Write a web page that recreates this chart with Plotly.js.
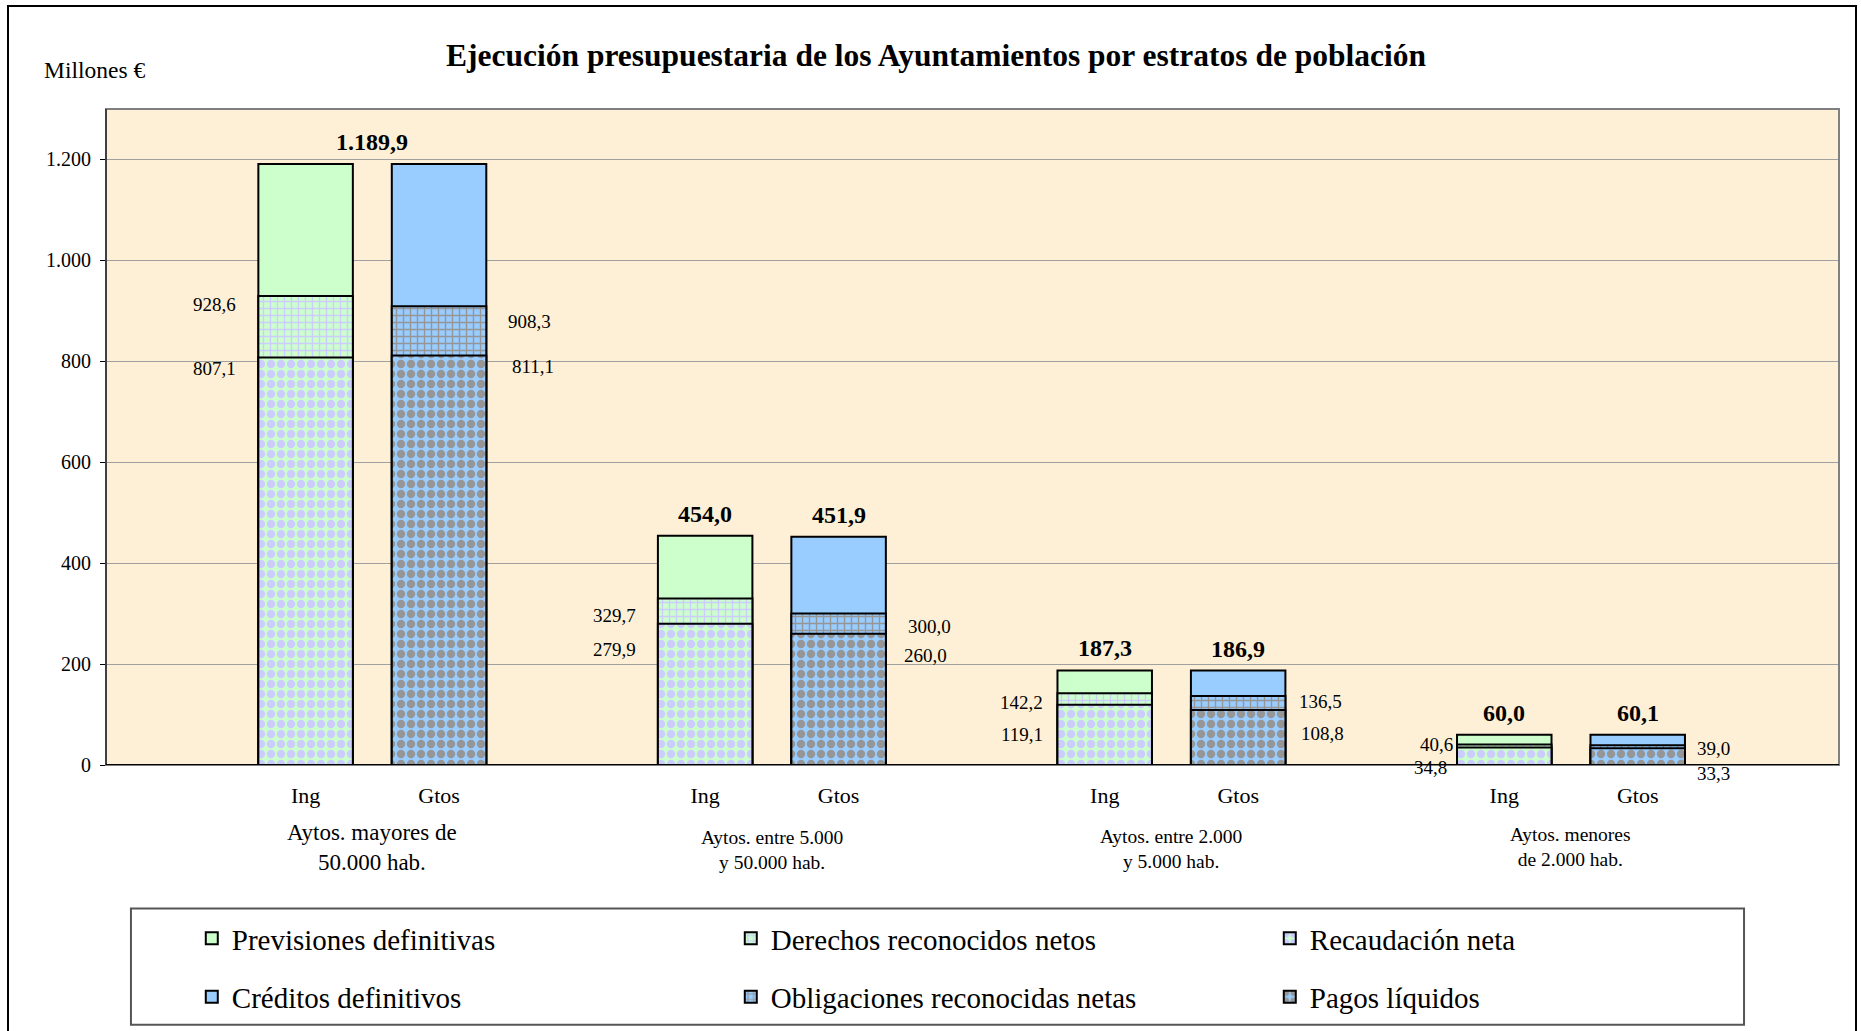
<!DOCTYPE html>
<html>
<head>
<meta charset="utf-8">
<script src="https://cdn.plot.ly/plotly-3.0.1.min.js"></script>
<style>
  html, body { margin: 0; padding: 0; background: #ffffff; overflow: hidden; }
  #frame { position: absolute; left: 7px; top: 5px; width: 1850px; height: 1100px; border: 2px solid #000; box-sizing: border-box; }
  #chart { position: absolute; left: 0; top: 0; width: 1861px; height: 1031px; }
</style>
</head>
<body>
<div id="frame"></div>
<div id="chart"></div>
<script>
// ---- Data ----
var groupLabels = [
  'Aytos. mayores de<br>50.000 hab.',
  'Aytos. entre 5.000<br>y 50.000 hab.',
  'Aytos. entre 2.000<br>y 5.000 hab.',
  'Aytos. menores<br>de 2.000 hab.'
];
var barLabels = ['Ing', 'Gtos'];
var previsiones   = [1189.9, 454.0, 187.3, 60.0];
var derechos      = [928.6, 329.7, 142.2, 40.6];
var recaudacion   = [807.1, 279.9, 119.1, 34.8];
var creditos      = [1189.9, 451.9, 186.9, 60.1];
var obligaciones  = [908.3, 300.0, 136.5, 39.0];
var pagos         = [811.1, 260.0, 108.8, 33.3];
var yTicks = [0, 200, 400, 600, 800, 1000, 1200];

// ---- Style ----
var FONT = 'Liberation Serif, Times New Roman, serif';
var GREEN = '#CCFFCC', LAV = '#CCCCFF', BLUE = '#99CCFF', GRAY = '#969696';
var BAR_W = 0.2365, ING_OFF = -0.285, GTOS_OFF = 0.049;
// label nudges (px): [xshift, yshift] for inner segment labels
var ingShift  = [[[-20,-8],[-20,-11]], [[-20,-17],[-20,-26]], [[-12,-9],[-12,-30]], [[-2,0],[-8,-20]]];
var gtosShift = [[[20,-15],[24,-11]], [[20,-13],[16,-22]], [[12,-5],[14,-23]], [[10,-3],[10,-25]]];
var groupLabelY = [-0.125, -0.13, -0.128, -0.125];

var idx = groupLabels.map(function(_, i){ return i; });

function fmt(v){
  var s = v.toFixed(1).split('.');
  var intPart = s[0].replace(/\B(?=(\d{3})+(?!\d))/g, '.');
  return intPart + ',' + s[1];
}

function barTrace(name, vals, off, fill, pattern, legend){
  var marker = { color: fill, line: { color: '#000000', width: 2 } };
  if (pattern) marker.pattern = pattern;
  return {
    type: 'bar', name: name, x: idx, y: vals, offset: off, width: BAR_W,
    marker: marker, legend: legend, hoverinfo: 'y'
  };
}

var traces = [
  barTrace('Previsiones definitivas', previsiones, ING_OFF, GREEN, null, 'legend'),
  barTrace('Derechos reconocidos netos', derechos, ING_OFF, GREEN,
           { shape: '+', fgcolor: LAV, bgcolor: GREEN, size: 7, solidity: 0.35, fillmode: 'replace' }, 'legend'),
  barTrace('Recaudación neta', recaudacion, ING_OFF, GREEN,
           { shape: '.', fgcolor: LAV, bgcolor: GREEN, size: 10, solidity: 0.55, fillmode: 'replace' }, 'legend'),
  barTrace('Créditos definitivos', creditos, GTOS_OFF, BLUE, null, 'legend2'),
  barTrace('Obligaciones reconocidas netas', obligaciones, GTOS_OFF, BLUE,
           { shape: '+', fgcolor: GRAY, bgcolor: BLUE, size: 7, solidity: 0.35, fillmode: 'replace' }, 'legend2'),
  barTrace('Pagos líquidos', pagos, GTOS_OFF, BLUE,
           { shape: '.', fgcolor: GRAY, bgcolor: BLUE, size: 10, solidity: 0.55, fillmode: 'replace' }, 'legend2')
];

var annotations = [];
idx.forEach(function(i){
  // totals
  if (previsiones[i] === creditos[i]) {
    annotations.push({ x: i, y: previsiones[i], xref: 'x', yref: 'y', text: '<b>' + fmt(previsiones[i]) + '</b>',
      showarrow: false, yanchor: 'bottom', yshift: 7, font: { family: FONT, size: 24, color: '#000' } });
  } else {
    annotations.push({ x: i + ING_OFF + BAR_W / 2, y: previsiones[i], text: '<b>' + fmt(previsiones[i]) + '</b>',
      showarrow: false, yanchor: 'bottom', yshift: 7, font: { family: FONT, size: 24, color: '#000' } });
    annotations.push({ x: i + GTOS_OFF + BAR_W / 2, y: creditos[i], text: '<b>' + fmt(creditos[i]) + '</b>',
      showarrow: false, yanchor: 'bottom', yshift: 7, font: { family: FONT, size: 24, color: '#000' } });
  }
  // inner labels Ing (left)
  [derechos[i], recaudacion[i]].forEach(function(v, k){
    annotations.push({ x: i + ING_OFF, y: v, text: fmt(v), showarrow: false, xanchor: 'right', yanchor: 'middle',
      xshift: ingShift[i][k][0], yshift: ingShift[i][k][1], font: { family: FONT, size: 19, color: '#000' } });
  });
  // inner labels Gtos (right)
  [obligaciones[i], pagos[i]].forEach(function(v, k){
    annotations.push({ x: i + GTOS_OFF + BAR_W, y: v, text: fmt(v), showarrow: false, xanchor: 'left', yanchor: 'middle',
      xshift: gtosShift[i][k][0], yshift: gtosShift[i][k][1], font: { family: FONT, size: 19, color: '#000' } });
  });
  // group labels
  annotations.push({ x: i, y: groupLabelY[i], xref: 'x', yref: 'paper', text: groupLabels[i], showarrow: false,
    yanchor: 'middle', align: 'center',
    font: { family: FONT, size: i === 0 ? 23 : 19.5, color: '#000' } });
});
annotations.push({ x: -0.037, y: 1.059, xref: 'paper', yref: 'paper', text: 'Millones €', showarrow: false,
  xanchor: 'left', yanchor: 'middle', font: { family: FONT, size: 23.5, color: '#000' } });

var tickvals = [], ticktext = [];
idx.forEach(function(i){
  tickvals.push(i + ING_OFF + BAR_W / 2); ticktext.push(barLabels[0]);
  tickvals.push(i + GTOS_OFF + BAR_W / 2); ticktext.push(barLabels[1]);
});

var legendCommon = {
  orientation: 'h', xref: 'paper', yref: 'paper', xanchor: 'left', yanchor: 'top',
  x: 0.0495, bgcolor: 'rgba(0,0,0,0)', borderwidth: 0,
  entrywidth: 494, entrywidthmode: 'pixels',
  font: { family: FONT, size: 29, color: '#000' }
};
var legend1 = Object.assign({}, legendCommon, { y: -0.2255 });
var legend2 = Object.assign({}, legendCommon, { y: -0.3145 });

var layout = {
  width: 1861, height: 1031,
  margin: { l: 106, r: 22, t: 109, b: 266, autoexpand: false },
  paper_bgcolor: 'rgba(0,0,0,0)',
  plot_bgcolor: '#FDF0D6',
  barmode: 'overlay',
  separators: ',.',
  showlegend: true,
  title: { text: '<b>Ejecución presupuestaria de los Ayuntamientos por estratos de población</b>',
    xref: 'container', yref: 'container', x: 0.503, y: 0.947, xanchor: 'center', yanchor: 'middle',
    font: { family: FONT, size: 31.5, color: '#000' } },
  xaxis: {
    type: 'linear', range: [-0.6663, 3.671], tickmode: 'array', tickvals: tickvals, ticktext: ticktext,
    showgrid: false, zeroline: false, showline: false,
    ticks: 'outside', ticklen: 10.5, tickcolor: 'rgba(0,0,0,0)',
    tickfont: { family: FONT, size: 22, color: '#000' }, fixedrange: true
  },
  yaxis: {
    range: [0, 1299], tickmode: 'array', tickvals: yTicks, tickformat: ',d',
    showgrid: true, gridcolor: '#A0A0A0', gridwidth: 1, zeroline: false,
    showline: false, ticks: 'outside', ticklen: 5, tickcolor: '#000', tickwidth: 1,
    ticklabelstandoff: 5,
    tickfont: { family: FONT, size: 20, color: '#000' }, fixedrange: true
  },
  legend: legend1,
  legend2: legend2,
  annotations: annotations,
  shapes: [
    // plot area border
    { type: 'rect', xref: 'paper', yref: 'paper', x0: 0, x1: 1, y0: 0, y1: 1,
      line: { color: '#808080', width: 2 }, fillcolor: 'rgba(0,0,0,0)', layer: 'above' },
    // left axis line
    { type: 'line', xref: 'paper', yref: 'paper', x0: 0, x1: 0, y0: 0, y1: 1,
      line: { color: '#000', width: 1 }, layer: 'above' },
    // x axis baseline
    { type: 'line', xref: 'paper', yref: 'y', x0: 0, x1: 1, y0: 0, y1: 0,
      line: { color: '#000', width: 2 }, layer: 'above' },
    // legend box
    { type: 'rect', xref: 'paper', yref: 'paper', x0: 0.0144, x1: 0.9452, y0: -0.396, y1: -0.2186,
      line: { color: '#555', width: 2 }, fillcolor: 'rgba(0,0,0,0)' }
  ]
};

Plotly.newPlot('chart', traces, layout, { displayModeBar: false, staticPlot: true });
</script>
</body>
</html>
